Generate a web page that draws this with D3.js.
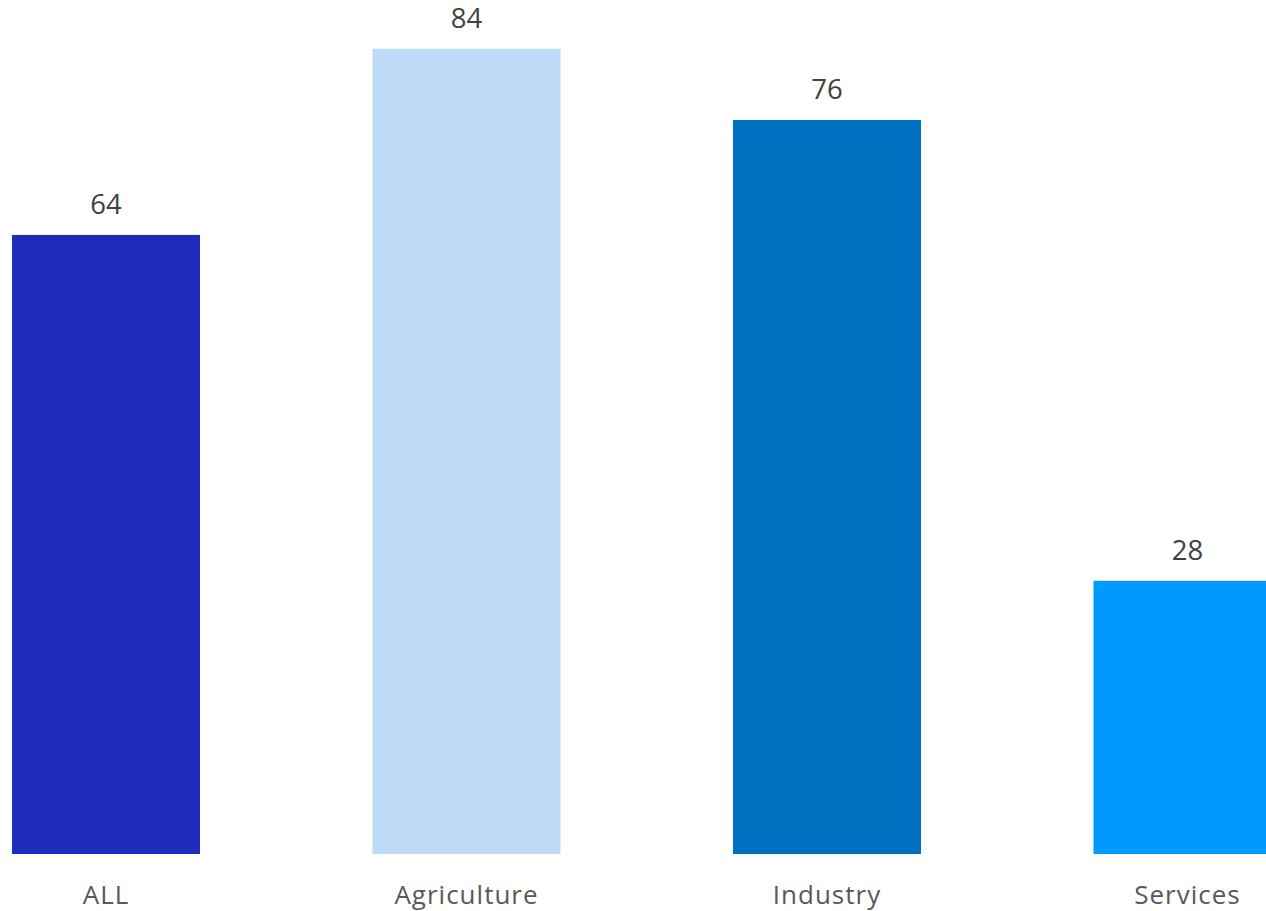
<!DOCTYPE html>
<html>
<head>
<meta charset="utf-8">
<script src="https://cdn.jsdelivr.net/npm/d3@7"></script>
<style>
  html, body { margin: 0; padding: 0; background: #ffffff; overflow: hidden; }
  svg { display: block; }
</style>
</head>
<body>
<svg id="chart" width="1266" height="911"></svg>
<script>
const categories = ["ALL", "Agriculture", "Industry", "Services"];
const values = [64.35, 83.7, 76.3, 28.4];
const valueLabels = ["64", "84", "76", "28"];
const colors = ["#1f2bbb", "#bddbf7", "#0070c0", "#0099ff"];

const svg = d3.select("#chart");
const baseY = 854;

const x = d3.scaleBand()
  .domain(categories)
  .range([12, 1281.5])
  .paddingInner(0.4785)
  .paddingOuter(0);

const y = d3.scaleLinear()
  .domain([0, 88])
  .range([baseY, 7.44]);

const data = categories.map((c, i) => ({ c, v: values[i], label: valueLabels[i], color: colors[i] }));

svg.selectAll("rect.bar")
  .data(data)
  .join("rect")
  .attr("class", "bar")
  .attr("x", d => x(d.c))
  .attr("width", x.bandwidth())
  .attr("y", d => y(d.v))
  .attr("height", d => y(0) - y(d.v))
  .attr("fill", d => d.color);

svg.selectAll("text.val")
  .data(data)
  .join("text")
  .attr("class", "val")
  .attr("x", d => x(d.c) + x.bandwidth() / 2)
  .attr("y", d => y(d.v) - 20.5)
  .attr("text-anchor", "middle")
  .attr("font-family", "'Open Sans', sans-serif")
  .attr("font-size", 27.5)
  .attr("fill", "#404040")
  .text(d => d.label);

const xAxis = d3.axisBottom(x).tickSize(0).tickPadding(0);
const gx = svg.append("g")
  .attr("transform", `translate(0,${baseY})`)
  .call(xAxis);
gx.select(".domain").remove();
gx.selectAll("text")
  .attr("dy", null)
  .attr("y", 49.5)
  .attr("font-family", "'Open Sans', sans-serif")
  .attr("font-size", 26)
  .attr("letter-spacing", "1px")
  .attr("fill", "#595959");
</script>
</body>
</html>
